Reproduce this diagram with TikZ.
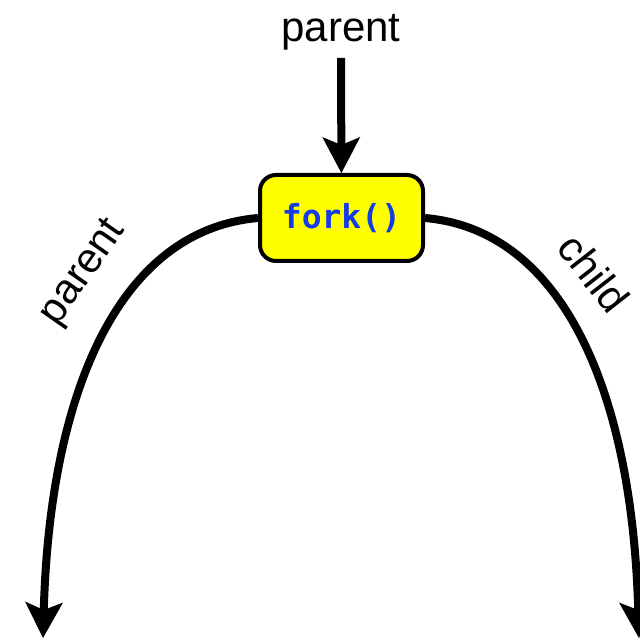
\documentclass[tikz,border=0pt]{standalone}
\usepackage{fontspec}
\setmainfont{Liberation Sans}
\newfontfamily\codefont{DejaVu Sans Mono}
\usetikzlibrary{arrows.meta}
\definecolor{forkyellow}{RGB}{255,255,0}
\definecolor{forkblue}{RGB}{20,60,230}
\tikzset{
  bigtip/.tip={Stealth[length=36pt,width=38pt,inset=8pt,line width=0pt]},
  flow/.style={line width=8pt,-bigtip},
  lbl/.style={font=\fontsize{42}{46}\selectfont,inner sep=2pt},
  forkbox/.style={draw=black,line width=4pt,fill=forkyellow,rounded corners=16pt,
    minimum width=163pt,minimum height=86pt,inner sep=0pt,
    font=\codefont\bfseries\fontsize{33}{36}\selectfont,text=forkblue}
}
\begin{document}
\begin{tikzpicture}[x=1pt,y=-1pt]
\useasboundingbox (0,0) rectangle (640,639);
\node[forkbox] (fork) at (341.5,218) {fork()};
\node[lbl,anchor=base] (top) at (341,42) {parent};
\draw[flow,shorten <=5pt] (top) -- (fork);
\coordinate (lend) at (43,638);
\coordinate (rend) at (639,638);
\draw[flow] (fork.west) .. controls (120,230) and (50,390) .. (lend);
\draw[flow] (fork.east) .. controls (562,230) and (632,390) .. (rend);
\node[lbl,rotate=55] (lp) at (84,273) {parent};
\node[lbl,rotate=-52] (rc) at (594,273) {child};
\end{tikzpicture}
\end{document}
